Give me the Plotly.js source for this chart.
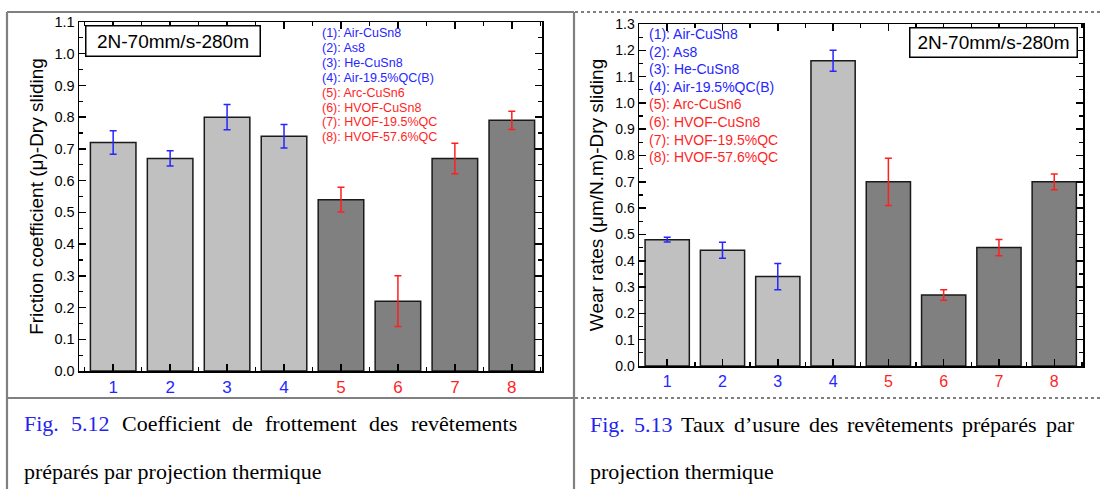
<!DOCTYPE html>
<html><head><meta charset="utf-8">
<script src="https://cdn.plot.ly/plotly-3.0.1.min.js"></script>
<style>html,body{margin:0;padding:0;background:#fff;}#chart{width:1100px;height:489px;}</style>
</head><body><div id="chart"></div>
<script>
// ---------- data ----------
const categories = [1, 2, 3, 4, 5, 6, 7, 8];
const tickLabels = ['1', '2', '3', '4', '5', '6', '7', '8'];
const sampleNames = ['(1): Air-CuSn8', '(2): As8', '(3): He-CuSn8', '(4): Air-19.5%QC(B)',
                     '(5): Arc-CuSn6', '(6): HVOF-CuSn8', '(7): HVOF-19.5%QC', '(8): HVOF-57.6%QC'];
const frictionValues = [0.72, 0.67, 0.80, 0.74, 0.54, 0.22, 0.67, 0.79];
const frictionErrors = [0.037, 0.024, 0.04, 0.037, 0.039, 0.08, 0.048, 0.029];
const wearValues = [0.48, 0.44, 0.34, 1.16, 0.70, 0.27, 0.45, 0.70];
const wearErrors = [0.009, 0.03, 0.05, 0.04, 0.09, 0.02, 0.031, 0.03];
const conditionLabel = '2N-70mm/s-280m';
const frictionTitle = 'Friction coefficient (\u03bc)-Dry sliding';
const wearTitle = 'Wear rates (\u03bcm/N.m)-Dry sliding';
const captionLeftLine1 = ['Fig.', '5.12', 'Coefficient', 'de', 'frottement', 'des', 'rev\u00eatements'];
const captionLeftLine2 = 'pr\u00e9par\u00e9s par projection thermique';
const captionRightLine1 = ['Fig.', '5.13', 'Taux', 'd\u2019usure', 'des', 'rev\u00eatements', 'pr\u00e9par\u00e9s', 'par'];
const captionRightLine2 = 'projection thermique';

// ---------- styling ----------
const W = 1100, H = 489;
const px = x => x / W;
const py = y => 1 - y / H;
const BLUE = '#2626ff', RED = '#ff1f1f';
const LIGHT = '#c0c0c0', DARK = '#808080';
const SANS = '"Liberation Sans", Arial, sans-serif';
const SERIF = '"Liberation Serif", "Times New Roman", serif';
const nBlue = 4;
const colorOf = i => (i < nBlue ? BLUE : RED);

const coloredTicks = tickLabels.map((t, i) => `<span style="color:${colorOf(i)}">${t}</span>`);
const minorX = categories.map(c => c - 0.5).concat([categories[categories.length - 1] + 0.5]);

function barTraces(values, errors, xa, ya) {
  const groups = [[0, nBlue, LIGHT, BLUE], [nBlue, categories.length, DARK, RED]];
  return groups.map(([a, b, fill, ec]) => ({
    type: 'bar', xaxis: xa, yaxis: ya,
    x: categories.slice(a, b), y: values.slice(a, b), width: 0.8,
    marker: {color: fill, line: {color: '#1a1a1a', width: 1.5}},
    error_y: {type: 'data', array: errors.slice(a, b), visible: true, color: ec, thickness: 1.5, width: 3.5},
    hoverinfo: 'skip'
  }));
}

function xAxis(dom, rng, fsize, anchor) {
  return {domain: dom, range: rng, anchor: anchor, tickmode: 'array', tickvals: categories, ticktext: coloredTicks,
    ticks: 'inside', ticklen: 7, tickwidth: 1.5, tickcolor: '#000',
    showline: true, linecolor: '#000', linewidth: 1.5, mirror: 'ticks',
    showgrid: false, zeroline: false, tickfont: {family: SANS, size: fsize},
    minor: {tickmode: 'array', tickvals: minorX, ticks: 'inside', ticklen: 4, tickwidth: 1.5, tickcolor: '#000', showgrid: false},
    fixedrange: true};
}
function yAxis(dom, rng, fsize, title, anchor) {
  return {domain: dom, range: rng, anchor: anchor, tick0: 0, dtick: 0.1, tickformat: '.1f',
    ticks: 'inside', ticklen: 7, tickwidth: 1.5, tickcolor: '#000',
    showline: true, linecolor: '#000', linewidth: 1.5, mirror: 'ticks',
    showgrid: false, zeroline: false, tickfont: {family: SANS, size: fsize},
    minor: {tick0: 0, dtick: 0.05, ticks: 'inside', ticklen: 4, tickwidth: 1.2, tickcolor: '#000', showgrid: false},
    title: {text: title, font: {family: SANS, size: 19}, standoff: 6},
    fixedrange: true};
}

const data = [].concat(
  barTraces(frictionValues, frictionErrors, 'x', 'y'),
  barTraces(wearValues, wearErrors, 'x2', 'y2')
);

// ---------- annotations ----------
const annotations = [];
function boxLabel(xl, yt, w, h) {
  annotations.push({xref: 'paper', yref: 'paper', x: px(xl), y: py(yt), xanchor: 'left', yanchor: 'top',
    text: conditionLabel, showarrow: false, font: {family: SANS, size: 19, color: '#000'},
    bordercolor: '#000', borderwidth: 1.5, borderpad: 1.5, bgcolor: '#fff', width: w, height: h});
}
boxLabel(85, 25, 170, 26);
boxLabel(909, 27, 163, 25);

function sampleList(xl, y0, step, fsize) {
  sampleNames.forEach((s, i) => annotations.push({xref: 'paper', yref: 'paper', x: px(xl), y: py(y0 + i * step),
    xanchor: 'left', yanchor: 'middle', text: s, showarrow: false, font: {family: SANS, size: fsize, color: colorOf(i)}}));
}
sampleList(320, 33, 14.9, 12.5);
sampleList(647, 34, 17.6, 14);

// captions (justified first line)
const ctx = document.createElement('canvas').getContext('2d');
const CAP = 22;
ctx.font = CAP + 'px "Liberation Serif", serif';
function justified(words, x0, x1, yc, nBlueWords) {
  const widths = words.map(w => ctx.measureText(w).width);
  const total = widths.reduce((a, b) => a + b, 0);
  const gap = (x1 - x0 - total) / (words.length - 1);
  let x = x0;
  words.forEach((w, i) => {
    annotations.push({xref: 'paper', yref: 'paper', x: px(x), y: py(yc), xanchor: 'left', yanchor: 'middle',
      text: w, showarrow: false, font: {family: SERIF, size: CAP, color: i < nBlueWords ? '#2424ee' : '#000'}});
    x += widths[i] + gap;
  });
}
function plainLine(text, x0, yc) {
  annotations.push({xref: 'paper', yref: 'paper', x: px(x0), y: py(yc), xanchor: 'left', yanchor: 'middle',
    text: text, showarrow: false, font: {family: SERIF, size: CAP, color: '#000'}});
}
justified(captionLeftLine1, 22, 515, 423, 2);
plainLine(captionLeftLine2, 22, 471);
justified(captionRightLine1, 588, 1072, 424, 2);
plainLine(captionRightLine2, 588, 471);

// ---------- frame lines ----------
const G = '#808080';
function line(x0, y0, x1, y1, color, width, dash) {
  return {type: 'line', xref: 'paper', yref: 'paper', x0: px(x0), y0: py(y0), x1: px(x1), y1: py(y1),
    line: {color: color, width: width, dash: dash || 'solid'}};
}
const shapes = [
  line(7, 12, 574, 12, G, 2.2),
  line(7, 12, 7, 489, G, 2.2),
  line(574, 12, 574, 489, G, 2.2),
  line(7, 398, 574, 398, G, 2.2),
  line(575, 12, 1100, 12, '#555', 1.5, 'dot'),
  line(575, 398, 1100, 398, '#555', 1.5, 'dot')
];

const layout = {
  width: W, height: H, margin: {l: 0, r: 0, t: 0, b: 0},
  paper_bgcolor: '#fff', plot_bgcolor: '#fff', showlegend: false, barmode: 'overlay',
  font: {family: SANS, color: '#000'},
  xaxis: xAxis([px(79), px(542)], [0.4, 8.53], 17, 'y'),
  yaxis: yAxis([py(371), py(22)], [0, 1.1], 14.5, frictionTitle, 'x'),
  xaxis2: xAxis([px(639), px(1083)], [0.49, 8.52], 16, 'y2'),
  yaxis2: yAxis([py(366), py(24)], [0, 1.3], 14, wearTitle, 'x2'),
  annotations: annotations, shapes: shapes
};

Plotly.newPlot('chart', data, layout, {staticPlot: true, displayModeBar: false});
</script>
</body></html>
